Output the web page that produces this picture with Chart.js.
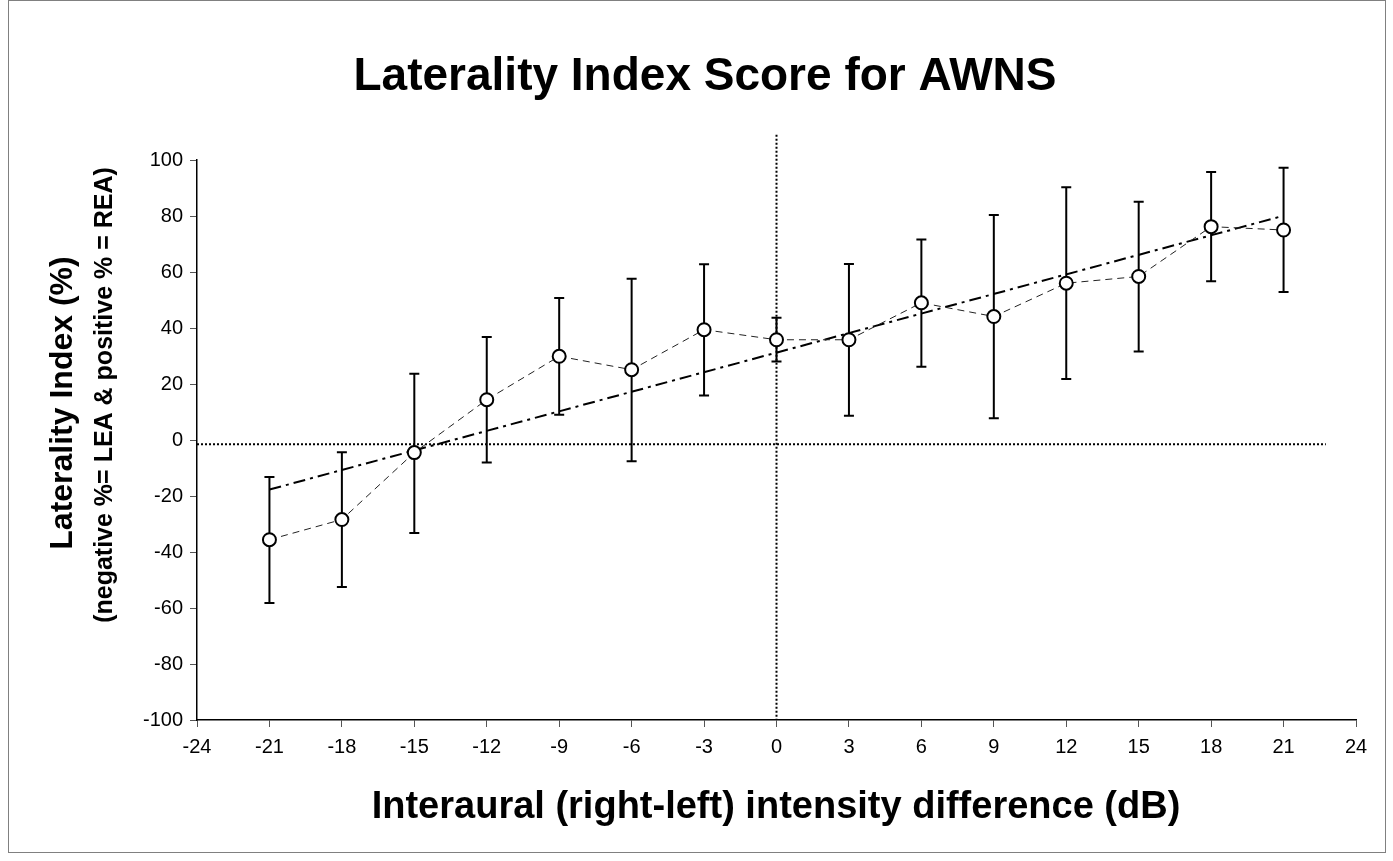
<!DOCTYPE html>
<html>
<head>
<meta charset="utf-8">
<script src="https://cdn.jsdelivr.net/npm/chart.js@4.4.1/dist/chart.umd.min.js"></script>
<style>
html,body{margin:0;padding:0;background:#fff;}
#wrap{position:relative;width:1393px;height:861px;}
</style>
</head>
<body>
<div id="wrap"><canvas id="c" width="1393" height="861"></canvas></div>
<script>
// intensity difference (dB)
var xs = [-21, -18, -15, -12, -9, -6, -3, 0, 3, 6, 9, 12, 15, 18, 21];
// mean laterality index (%) and error bar ends
var means = [-35.6, -28.4, -4.5, 14.4, 29.9, 25.1, 39.4, 35.8, 35.8, 49.0, 44.1, 56.0, 58.4, 76.2, 75.0];
var upper = [-13.2, -4.4, 23.7, 36.8, 50.7, 57.6, 62.8, 43.7, 62.9, 71.6, 80.4, 90.3, 85.1, 95.7, 97.2];
var lower = [-58.2, -52.5, -33.2, -8.0, 9.0, -7.6, 15.9, 28.0, 8.7, 26.2, 7.8, 21.8, 31.6, 56.7, 52.9];
// linear trend end points
var trendX = [-21, 21];
var trendY = [-17.7, 80.1];
// dotted reference lines
var refLineX = [-24, 22.75];
var refLineY = [-1.5, -1.5];
var zeroLineX = [0, 0];
var zeroLineY = [109, -100];

var FONT = '"Liberation Sans", Arial, Helvetica, sans-serif';

function pts(a, b) {
  return a.map(function(v, i) { return { x: v, y: b[i] }; });
}

var errorBars = {
  id: 'errorBars',
  beforeDatasetsDraw: function(chart) {
    var ctx = chart.ctx, sx = chart.scales.x, sy = chart.scales.y;
    ctx.save();
    ctx.strokeStyle = '#000';
    ctx.lineWidth = 2;
    xs.forEach(function(v, i) {
      var px = sx.getPixelForValue(v);
      var top = sy.getPixelForValue(upper[i]);
      var bot = sy.getPixelForValue(lower[i]);
      ctx.beginPath();
      ctx.moveTo(px, top); ctx.lineTo(px, bot);
      ctx.moveTo(px - 5, top); ctx.lineTo(px + 5, top);
      ctx.moveTo(px - 5, bot); ctx.lineTo(px + 5, bot);
      ctx.stroke();
    });
    ctx.restore();
  }
};

var texts = {
  id: 'texts',
  afterDraw: function(chart) {
    var ctx = chart.ctx;
    ctx.save();
    // frame
    ctx.strokeStyle = '#808080';
    ctx.lineWidth = 1;
    ctx.strokeRect(8.5, 0.5, 1377, 852);

    ctx.fillStyle = '#000';
    ctx.textAlign = 'center';
    ctx.textBaseline = 'middle';
    ctx.font = 'bold 46px ' + FONT;
    ctx.fillText('Laterality Index Score for AWNS', 705, 77);
    ctx.font = 'bold 38px ' + FONT;
    ctx.fillText('Interaural (right-left) intensity difference (dB)', 776, 808);

    ctx.translate(63, 403);
    ctx.rotate(-Math.PI / 2);
    ctx.font = 'bold 32px ' + FONT;
    ctx.fillText('Laterality Index (%)', 0, 0);
    ctx.font = 'bold 25px ' + FONT;
    ctx.fillText('(negative %= LEA & positive % = REA)', 8, 42);
    ctx.restore();
  }
};

var axisStyle = {
  display: true,
  drawOnChartArea: false,
  drawTicks: true,
  tickLength: 7,
  tickColor: '#555',
  color: '#000'
};

new Chart(document.getElementById('c'), {
  type: 'line',
  data: {
    datasets: [
      {
        label: 'mean',
        data: pts(xs, means),
        borderColor: '#222',
        borderWidth: 1,
        borderDash: [7, 5],
        pointRadius: 6.5,
        pointBackgroundColor: '#fff',
        pointBorderColor: '#000',
        pointBorderWidth: 2,
        order: 0
      },
      {
        label: 'trend',
        data: pts(trendX, trendY),
        borderColor: '#000',
        borderWidth: 2,
        borderDash: [12, 5, 3, 5],
        pointRadius: 0,
        order: 1
      },
      {
        label: 'ref',
        data: pts(refLineX, refLineY),
        borderColor: '#000',
        borderWidth: 2,
        borderDash: [2, 2],
        pointRadius: 0,
        order: 2
      },
      {
        label: 'zero',
        data: pts(zeroLineX, zeroLineY),
        borderColor: '#000',
        borderWidth: 2,
        borderDash: [2, 2],
        pointRadius: 0,
        clip: false,
        order: 3
      }
    ]
  },
  options: {
    responsive: false,
    animation: false,
    devicePixelRatio: 1,
    layout: { padding: { left: 0, top: 160, right: 37, bottom: 0 } },
    plugins: {
      legend: { display: false },
      tooltip: { enabled: false },
      title: { display: false }
    },
    scales: {
      x: {
        type: 'linear',
        min: -24,
        max: 24,
        ticks: { stepSize: 3, color: '#000', font: { family: FONT, size: 20 }, padding: 8, maxRotation: 0 },
        grid: axisStyle,
        border: { color: '#000', width: 1.5 },
        afterFit: function(s) { s.height = 141; }
      },
      y: {
        min: -100,
        max: 100,
        ticks: { stepSize: 20, color: '#000', font: { family: FONT, size: 20 }, padding: 7 },
        grid: axisStyle,
        border: { color: '#000', width: 1.5 },
        afterFit: function(s) { s.width = 197; }
      }
    }
  },
  plugins: [errorBars, texts]
});
</script>
</body>
</html>
